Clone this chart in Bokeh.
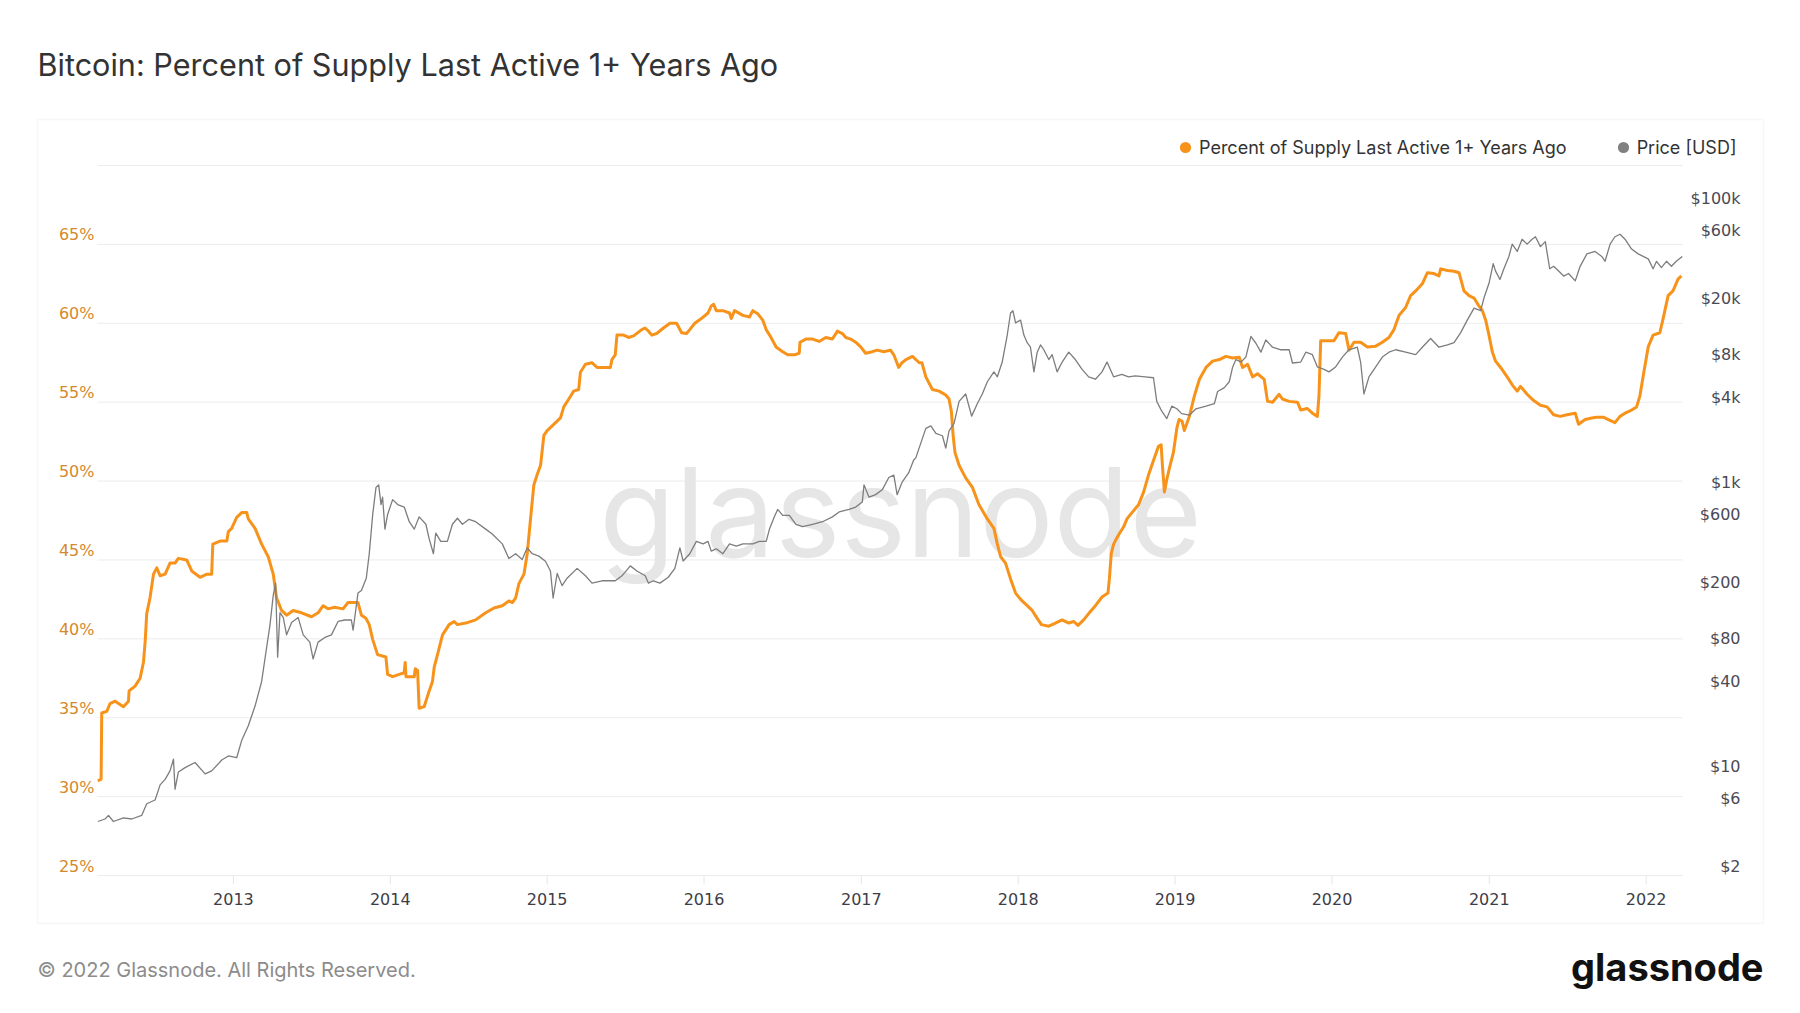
import datetime as dt
from bokeh.plotting import figure
from bokeh.core.properties import value
from bokeh.models import (Range1d, LogScale, Label, LabelSet, ColumnDataSource,
                          BoxAnnotation, Legend, LegendItem)
from bokeh.embed import file_html
from bokeh.resources import INLINE

# ---------------- data ----------------
TITLE = "Bitcoin: Percent of Supply Last Active 1+ Years Ago"
SERIES_PCT = "Percent of Supply Last Active 1+ Years Ago"
SERIES_PRICE = "Price [USD]"
FOOTER = "\u00a9 2022 Glassnode. All Rights Reserved."
BRAND = "glassnode"

# decimal-year dates and percent values
pct_dates = [
    2012.138, 2012.159, 2012.163, 2012.195, 2012.216, 2012.248, 2012.301, 2012.333, 2012.337, 2012.375,
    2012.407, 2012.428, 2012.439, 2012.449, 2012.470, 2012.492, 2012.513, 2012.534, 2012.566, 2012.597,
    2012.629, 2012.650, 2012.703, 2012.735, 2012.788, 2012.831, 2012.862, 2012.869, 2012.915, 2012.958,
    2012.968, 2012.989, 2013.021, 2013.053, 2013.085, 2013.095, 2013.138, 2013.180, 2013.222, 2013.254,
    2013.275, 2013.307, 2013.339, 2013.381, 2013.434, 2013.498, 2013.540, 2013.572, 2013.603, 2013.646,
    2013.699, 2013.731, 2013.794, 2013.816, 2013.845, 2013.866, 2013.888, 2013.919, 2013.972, 2013.983,
    2014.015, 2014.057, 2014.089, 2014.095, 2014.100, 2014.153, 2014.159, 2014.174, 2014.184, 2014.216,
    2014.248, 2014.269, 2014.280, 2014.301, 2014.333, 2014.375, 2014.407, 2014.428, 2014.481, 2014.544,
    2014.608, 2014.661, 2014.714, 2014.756, 2014.778, 2014.799, 2014.820, 2014.852, 2014.873, 2014.894,
    2014.915, 2014.936, 2014.958, 2014.979, 2015.000, 2015.032, 2015.085, 2015.106, 2015.138, 2015.169,
    2015.201, 2015.212, 2015.244, 2015.286, 2015.318, 2015.403, 2015.413, 2015.434, 2015.445, 2015.487,
    2015.519, 2015.551, 2015.603, 2015.624, 2015.646, 2015.667, 2015.698, 2015.741, 2015.783, 2015.825,
    2015.857, 2015.888, 2015.909, 2015.941, 2015.983, 2016.025, 2016.046, 2016.061, 2016.078, 2016.120,
    2016.162, 2016.173, 2016.194, 2016.247, 2016.289, 2016.310, 2016.342, 2016.373, 2016.395, 2016.426,
    2016.458, 2016.500, 2016.532, 2016.574, 2016.605, 2016.610, 2016.648, 2016.690, 2016.732, 2016.774,
    2016.816, 2016.848, 2016.880, 2016.901, 2016.932, 2016.964, 2016.996, 2017.027, 2017.070, 2017.101,
    2017.143, 2017.186, 2017.207, 2017.238, 2017.259, 2017.284, 2017.326, 2017.369, 2017.386, 2017.411,
    2017.453, 2017.496, 2017.538, 2017.559, 2017.574, 2017.585, 2017.597, 2017.623, 2017.665, 2017.708,
    2017.750, 2017.803, 2017.845, 2017.867, 2017.888, 2017.919, 2017.951, 2017.983, 2018.015, 2018.057,
    2018.089, 2018.121, 2018.148, 2018.195, 2018.237, 2018.280, 2018.322, 2018.354, 2018.381, 2018.417,
    2018.449, 2018.492, 2018.534, 2018.572, 2018.581, 2018.593, 2018.608, 2018.640, 2018.672, 2018.693,
    2018.725, 2018.767, 2018.799, 2018.831, 2018.862, 2018.894, 2018.911, 2018.919, 2018.932, 2018.947,
    2018.968, 2018.989, 2019.011, 2019.025, 2019.044, 2019.059, 2019.091, 2019.123, 2019.155, 2019.197,
    2019.239, 2019.282, 2019.324, 2019.367, 2019.409, 2019.430, 2019.462, 2019.494, 2019.525, 2019.568,
    2019.589, 2019.621, 2019.663, 2019.684, 2019.727, 2019.780, 2019.801, 2019.843, 2019.875, 2019.907,
    2019.917, 2019.928, 2019.960, 2020.013, 2020.044, 2020.087, 2020.108, 2020.140, 2020.182, 2020.225,
    2020.278, 2020.320, 2020.362, 2020.394, 2020.426, 2020.468, 2020.500, 2020.532, 2020.574, 2020.606,
    2020.648, 2020.680, 2020.691, 2020.734, 2020.776, 2020.808, 2020.839, 2020.871, 2020.903, 2020.934,
    2020.956, 2020.977, 2020.998, 2021.019, 2021.040, 2021.072, 2021.114, 2021.146, 2021.178, 2021.199,
    2021.241, 2021.283, 2021.326, 2021.368, 2021.410, 2021.452, 2021.495, 2021.548, 2021.569, 2021.611,
    2021.653, 2021.685, 2021.727, 2021.759, 2021.801, 2021.833, 2021.865, 2021.907, 2021.939, 2021.960,
    2021.985, 2022.013, 2022.044, 2022.087, 2022.108, 2022.140, 2022.171, 2022.203, 2022.224,
]
pct_values = [
    31.0, 31.1, 35.3, 35.4, 35.9, 36.05, 35.7, 36.05, 36.7, 37.0,
    37.5, 38.5, 39.8, 41.6, 42.6, 44.1, 44.5, 44.0, 44.1, 44.8,
    44.8, 45.1, 45.0, 44.3, 43.9, 44.1, 44.1, 46.0, 46.2, 46.2,
    46.8, 47.0, 47.7, 48.0, 48.0, 47.6, 47.0, 46.0, 45.2, 44.1,
    42.6, 41.8, 41.5, 41.8, 41.65, 41.4, 41.65, 42.1, 41.9, 42.0,
    41.9, 42.3, 42.3, 41.5, 41.3, 40.9, 39.95, 39.0, 38.85, 37.75,
    37.6, 37.75, 37.85, 38.5, 37.6, 37.6, 38.1, 38.0, 35.6, 35.7,
    36.7, 37.3, 38.2, 39.0, 40.25, 40.9, 41.1, 40.9, 41.0, 41.2,
    41.65, 41.95, 42.1, 42.4, 42.3, 42.6, 43.5, 44.1, 45.4, 47.6,
    49.75, 50.4, 51.0, 52.9, 53.2, 53.5, 54.0, 54.7, 55.2, 55.7,
    55.8, 56.9, 57.4, 57.5, 57.2, 57.2, 57.7, 58.0, 59.25, 59.25,
    59.1, 59.2, 59.6, 59.7, 59.5, 59.25, 59.35, 59.7, 60.0, 60.0,
    59.4, 59.35, 59.6, 60.0, 60.3, 60.65, 61.1, 61.2, 60.8, 60.8,
    60.65, 60.3, 60.8, 60.5, 60.4, 60.8, 60.6, 60.2, 59.6, 59.1,
    58.5, 58.2, 58.0, 58.0, 58.1, 58.8, 59.0, 59.0, 58.85, 59.1,
    59.0, 59.5, 59.35, 59.1, 59.0, 58.8, 58.5, 58.1, 58.2, 58.3,
    58.2, 58.3, 58.0, 57.2, 57.5, 57.7, 57.9, 57.5, 57.5, 56.6,
    55.8, 55.7, 55.45, 55.2, 54.4, 52.9, 51.8, 51.0, 50.2, 49.6,
    48.5, 47.6, 47.0, 46.0, 45.2, 44.8, 43.8, 42.9, 42.5, 42.1,
    41.8, 41.3, 40.9, 40.8, 41.0, 41.2, 41.0, 41.1, 40.85, 41.2,
    41.6, 42.1, 42.65, 42.9, 43.8, 45.4, 46.0, 46.6, 47.1, 47.6,
    48.0, 48.5, 49.3, 50.4, 51.3, 52.2, 52.3, 51.0, 49.3, 50.1,
    51.0, 51.8, 53.35, 53.9, 53.8, 53.2, 54.1, 55.4, 56.45, 57.2,
    57.6, 57.7, 57.9, 57.8, 57.85, 57.2, 57.4, 56.6, 56.8, 56.45,
    55.05, 55.0, 55.5, 55.2, 55.05, 55.0, 54.5, 54.6, 54.3, 54.1,
    55.4, 58.9, 58.9, 58.9, 59.4, 59.35, 58.3, 58.8, 58.8, 58.5,
    58.55, 58.8, 59.1, 59.6, 60.5, 61.0, 61.75, 62.05, 62.5, 63.2,
    63.15, 63.0, 63.45, 63.35, 63.3, 63.2, 62.05, 61.75, 61.6, 61.1,
    60.8, 60.2, 59.25, 58.2, 57.6, 57.2, 56.6, 56.1, 55.7, 56.0,
    55.5, 55.1, 54.8, 54.7, 54.2, 54.1, 54.2, 54.3, 53.6, 53.9,
    54.0, 54.05, 54.05, 53.9, 53.7, 54.1, 54.3, 54.5, 54.7, 55.4,
    56.9, 58.5, 59.25, 59.4, 60.3, 61.75, 62.05, 62.8, 63.0,
]

# decimal-year dates and BTC price (USD)
price_dates = [
    2012.138, 2012.184, 2012.206, 2012.237, 2012.301, 2012.354, 2012.417, 2012.449, 2012.502, 2012.534,
    2012.566, 2012.597, 2012.619, 2012.629, 2012.650, 2012.693, 2012.756, 2012.820, 2012.862, 2012.926,
    2012.968, 2013.021, 2013.053, 2013.095, 2013.138, 2013.180, 2013.212, 2013.233, 2013.254, 2013.269,
    2013.282, 2013.297, 2013.318, 2013.339, 2013.371, 2013.413, 2013.445, 2013.487, 2013.508, 2013.540,
    2013.583, 2013.625, 2013.667, 2013.710, 2013.752, 2013.763, 2013.794, 2013.816, 2013.847, 2013.866,
    2013.888, 2013.909, 2013.926, 2013.941, 2013.951, 2013.966, 2013.983, 2014.015, 2014.047, 2014.089,
    2014.121, 2014.153, 2014.184, 2014.227, 2014.248, 2014.275, 2014.290, 2014.322, 2014.364, 2014.396,
    2014.428, 2014.460, 2014.502, 2014.544, 2014.608, 2014.650, 2014.714, 2014.756, 2014.799, 2014.841,
    2014.873, 2014.905, 2014.947, 2014.989, 2015.021, 2015.038, 2015.064, 2015.095, 2015.127, 2015.191,
    2015.244, 2015.286, 2015.350, 2015.434, 2015.477, 2015.530, 2015.572, 2015.625, 2015.646, 2015.677,
    2015.719, 2015.772, 2015.814, 2015.846, 2015.867, 2015.909, 2015.951, 2015.994, 2016.025, 2016.046,
    2016.078, 2016.120, 2016.162, 2016.205, 2016.247, 2016.310, 2016.352, 2016.395, 2016.416, 2016.447,
    2016.468, 2016.500, 2016.542, 2016.584, 2016.627, 2016.690, 2016.753, 2016.816, 2016.859, 2016.922,
    2016.964, 2017.006, 2017.017, 2017.049, 2017.091, 2017.133, 2017.175, 2017.207, 2017.228, 2017.259,
    2017.302, 2017.333, 2017.347, 2017.379, 2017.411, 2017.443, 2017.475, 2017.517, 2017.538, 2017.559,
    2017.591, 2017.623, 2017.665, 2017.703, 2017.739, 2017.771, 2017.803, 2017.845, 2017.867, 2017.898,
    2017.930, 2017.951, 2017.966, 2017.983, 2018.015, 2018.036, 2018.057, 2018.078, 2018.100, 2018.121,
    2018.142, 2018.163, 2018.195, 2018.216, 2018.248, 2018.280, 2018.322, 2018.364, 2018.407, 2018.449,
    2018.492, 2018.534, 2018.566, 2018.608, 2018.661, 2018.703, 2018.746, 2018.809, 2018.862, 2018.883,
    2018.915, 2018.947, 2018.979, 2019.011, 2019.042, 2019.091, 2019.133, 2019.197, 2019.250, 2019.271,
    2019.314, 2019.345, 2019.367, 2019.388, 2019.420, 2019.451, 2019.483, 2019.515, 2019.547, 2019.578,
    2019.621, 2019.674, 2019.727, 2019.748, 2019.801, 2019.833, 2019.875, 2019.907, 2019.949, 2019.981,
    2020.023, 2020.066, 2020.108, 2020.161, 2020.182, 2020.203, 2020.235, 2020.278, 2020.320, 2020.362,
    2020.405, 2020.468, 2020.532, 2020.574, 2020.627, 2020.680, 2020.734, 2020.776, 2020.818, 2020.860,
    2020.903, 2020.945, 2020.966, 2020.998, 2021.025, 2021.040, 2021.068, 2021.093, 2021.125, 2021.146,
    2021.178, 2021.209, 2021.241, 2021.273, 2021.294, 2021.326, 2021.357, 2021.385, 2021.410, 2021.442,
    2021.474, 2021.505, 2021.548, 2021.579, 2021.622, 2021.674, 2021.717, 2021.738, 2021.770, 2021.801,
    2021.833, 2021.865, 2021.907, 2021.949, 2021.981, 2022.013, 2022.044, 2022.066, 2022.097, 2022.129,
    2022.161, 2022.192, 2022.230,
]
price_values = [
    4.8, 5.0, 5.3, 4.8, 5.1, 5.0, 5.3, 6.4, 6.8, 8.7,
    9.5, 10.9, 13.2, 8.1, 10.7, 11.5, 12.5, 10.4, 10.9, 13.0,
    13.9, 13.5, 17.9, 22.7, 31.2, 46.5, 81, 116, 188, 229,
    69, 142, 131, 99, 121, 131, 99, 88, 67, 88,
    95, 99, 123, 126, 126, 107, 195, 203, 248, 369,
    698, 1082, 1127, 819, 923, 550, 698, 887, 819, 787,
    620, 550, 671, 595, 469, 369, 516, 451, 451, 595,
    656, 595, 645, 620, 550, 508, 433, 341, 369, 336,
    406, 369, 355, 327, 279, 180, 268, 220, 248, 291,
    258, 229, 238, 238, 258, 303, 279, 258, 229, 238,
    229, 252, 291, 406, 328, 369, 451, 433, 451, 385,
    400, 369, 433, 417, 433, 433, 451, 451, 550, 671,
    757, 688, 688, 595, 572, 595, 620, 671, 727, 757,
    787, 853, 1127, 923, 962, 1040, 1270, 1321, 962, 1172,
    1374, 1679, 1746, 2218, 2818, 2932, 2600, 2500, 2047, 2710,
    3050, 4365, 4920, 3436, 4200, 4920, 6000, 7040, 6500, 8260,
    12800, 18300, 19000, 15600, 16300, 12800, 11300, 10500, 7040, 9690,
    10900, 10080, 8600, 9310, 7040, 8260, 9690, 8600, 7330, 6500,
    6250, 7040, 8260, 6500, 6760, 6500, 6600, 6500, 6400, 4365,
    3720, 3300, 4040, 3870, 3580, 3490, 3870, 4040, 4200, 5120,
    5460, 6000, 7630, 8600, 8260, 8950, 12500, 11200, 9690, 11800,
    10500, 10080, 10080, 8130, 8260, 9690, 9310, 7630, 7330, 7040,
    7630, 8950, 10080, 10500, 8260, 4920, 6500, 7630, 8950, 9690,
    10080, 9690, 9310, 10500, 12100, 10500, 10900, 11300, 13300, 16300,
    19800, 19000, 23300, 29600, 40700, 36100, 31500, 37500, 45800, 55900,
    49600, 60500, 55900, 60500, 63000, 53700, 58200, 37500, 39000, 36100,
    33300, 34700, 30800, 39000, 47700, 49600, 45800, 42300, 55900, 63000,
    65600, 60500, 51600, 47700, 45800, 44000, 37500, 42300, 38200, 42300,
    39000, 42300, 45800,
]

# axis ticks and labels
pct_grid = [25, 30, 35, 40, 45, 50, 55, 60, 65, 70]
pct_ticks = [25, 30, 35, 40, 45, 50, 55, 60, 65]
pct_tick_labels = ["25%", "30%", "35%", "40%", "45%", "50%", "55%", "60%", "65%"]
price_ticks = [2, 6, 10, 40, 80, 200, 600, 1000, 4000, 8000, 20000, 60000, 100000]
price_tick_labels = ["$2", "$6", "$10", "$40", "$80", "$200", "$600", "$1k", "$4k", "$8k",
                     "$20k", "$60k", "$100k"]
year_ticks = [2013, 2014, 2015, 2016, 2017, 2018, 2019, 2020, 2021, 2022]
year_labels = ["2013", "2014", "2015", "2016", "2017", "2018", "2019", "2020", "2021", "2022"]

# visible domain of the chart
D0, D1 = 2012.136, 2022.232          # date span of the plot area
P0, P1 = 25.0, 70.0                  # percent span
V0, V1 = 2.0, 200000.0               # price span (log)


def ydate(y):
    yr = int(y)
    a = dt.datetime(yr, 1, 1)
    b = dt.datetime(yr + 1, 1, 1)
    return a + (b - a) * (y - yr)


# ---------------- layout (canvas pixels, the frame fills the canvas) ----------------
W, H = 1784, 996
PL, PR, PT, PB = 97, 1682, 165, 875      # plot-area edges

ORANGE = "#f7931a"
GRAY = "#7d7d7d"
TICK_FONT = "DejaVu Sans"

xspan = (D1 - D0) / (PR - PL)
pspan = (P1 - P0) / (PB - PT)
dec = 5.0 / (PB - PT)
x_range = Range1d(ydate(D0 - PL * xspan), ydate(D1 + (W - PR) * xspan))
y_range = Range1d(P0 - (H - PB) * pspan, P1 + PT * pspan)

p = figure(width=W, height=H, output_backend="svg", toolbar_location=None,
           x_axis_location=None, y_axis_location=None, min_border=0,
           x_range=x_range, y_range=y_range)
p.extra_y_ranges = {
    "price": Range1d(V0 / 10 ** ((H - PB) * dec), V1 * 10 ** (PT * dec)),
    "px_y": Range1d(H, 0),
}
p.extra_y_scales = {"price": LogScale()}
p.extra_x_ranges = {"px_x": Range1d(0, W)}

p.outline_line_color = None
p.background_fill_color = "white"
p.border_fill_color = "white"
p.grid.visible = False

# outer box
p.add_layout(BoxAnnotation(left=37, right=1763, top=119, bottom=923,
                           x_range_name="px_x", y_range_name="px_y",
                           fill_alpha=0, line_color="#e3e3e3", line_width=1.5, level="underlay"))

# horizontal grid lines across the plot area
n = len(pct_grid)
grid_src = ColumnDataSource(dict(x0=[ydate(D0)] * n, x1=[ydate(D1)] * n, y=pct_grid))
p.segment(x0="x0", x1="x1", y0="y", y1="y", source=grid_src,
          line_color="#ececec", line_width=1, level="underlay")

# x-axis ticks and labels
xt = [dt.datetime(y, 1, 1) for y in year_ticks]
tick_src = ColumnDataSource(dict(x=xt, t=year_labels, y0=[PB] * len(xt), y1=[PB + 9] * len(xt),
                                 ly=[PB + 23] * len(xt)))
p.segment(x0="x", x1="x", y0="y0", y1="y1", source=tick_src, y_range_name="px_y",
          line_color="#e6e6e6", line_width=1)
p.add_layout(LabelSet(x="x", y="ly", text="t", source=tick_src, y_range_name="px_y",
                      text_align="center", text_baseline="middle",
                      text_font=value(TICK_FONT), text_font_size="16px", text_color="#3d3d48"))

# watermark
p.add_layout(Label(x=900, y=511, x_range_name="px_x", y_range_name="px_y", text=BRAND,
                   text_align="center", text_baseline="middle", text_font="Inter",
                   text_font_size="124px", text_color="#e6e6e6", level="underlay"))

# series
src_pct = ColumnDataSource(dict(x=[ydate(d) for d in pct_dates], y=pct_values))
src_price = ColumnDataSource(dict(x=[ydate(d) for d in price_dates], y=price_values))

p.line("x", "y", source=src_pct, line_color=ORANGE, line_width=3, line_join="round")
p.line("x", "y", source=src_price, line_color=GRAY, line_width=1.3, line_join="round",
       y_range_name="price")

# legend markers (zero-size scatter renderers carrying the series colours)
d_pct = p.scatter("x", "y", source=src_pct, size=0, marker="circle", fill_color=ORANGE,
                  line_color=None)
d_price = p.scatter("x", "y", source=src_price, size=0, marker="circle", fill_color="#808080",
                    line_color=None, y_range_name="price")
legend = Legend(items=[LegendItem(label=SERIES_PCT, renderers=[d_pct]),
                       LegendItem(label=SERIES_PRICE, renderers=[d_price])],
                orientation="horizontal", location=(1171, H - 161),
                glyph_width=28, glyph_height=28, label_standoff=-2, spacing=42,
                padding=0, margin=0, border_line_color=None, background_fill_alpha=0,
                label_text_font="Inter", label_text_font_size="18px",
                label_text_color="#333333")
p.add_layout(legend, "center")

# y tick labels
src_lt = ColumnDataSource(dict(y=pct_ticks, t=pct_tick_labels))
p.add_layout(LabelSet(x=94, y="y", text="t", source=src_lt, x_range_name="px_x",
                      text_align="right", text_baseline="bottom",
                      text_font=value(TICK_FONT), text_font_size="16px", text_color="#d4892c"))
src_rt = ColumnDataSource(dict(y=price_ticks, t=price_tick_labels))
p.add_layout(LabelSet(x=1740, y="y", text="t", source=src_rt, x_range_name="px_x",
                      y_range_name="price", text_align="right", text_baseline="bottom",
                      text_font=value(TICK_FONT), text_font_size="16px", text_color="#4a4a55"))

# title / footer
p.add_layout(Label(x=37, y=64, x_range_name="px_x", y_range_name="px_y", text=TITLE,
                   text_font="Inter", text_font_size="30.6px", text_color="#333333",
                   text_baseline="middle"))
p.add_layout(Label(x=37, y=969, x_range_name="px_x", y_range_name="px_y", text=FOOTER,
                   text_font="Inter", text_font_size="20px", text_color="#8c8c8c",
                   text_baseline="middle"))
p.add_layout(Label(x=1763, y=966, x_range_name="px_x", y_range_name="px_y", text=BRAND,
                   text_font="Inter", text_font_size="38px", text_font_style="bold",
                   text_color="#111111", text_align="right", text_baseline="middle"))

open("out.html", "w").write(file_html(p, INLINE, "Bitcoin"))
